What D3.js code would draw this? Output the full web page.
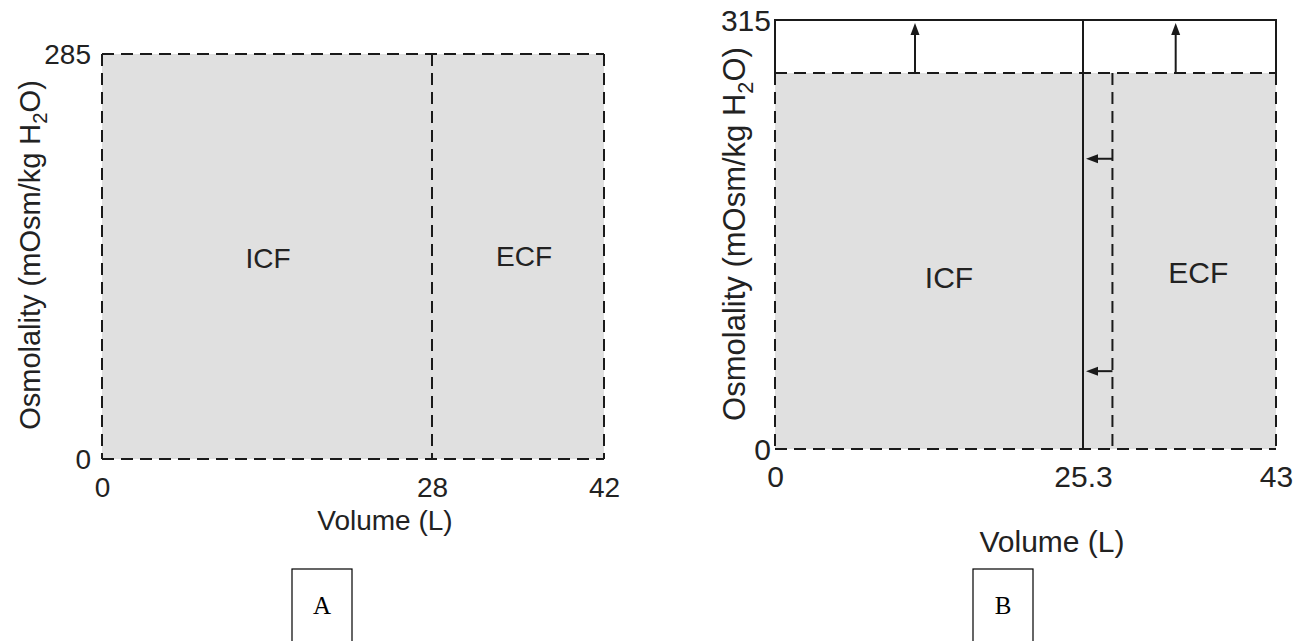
<!DOCTYPE html>
<html><head><meta charset="utf-8">
<script src="https://cdn.jsdelivr.net/npm/d3@7"></script>
<style>
body{margin:0;background:#fff;}
svg text{font-family:"Liberation Sans",Arial,Helvetica,sans-serif;fill:#222;}
</style></head>
<body><svg id="c" width="1316" height="641"></svg>
<script>
// ---- data ----
const volumeTicksA = [0, 28, 42];      // L
const osmTicksA = [0, 285];            // mOsm/kg H2O
const icfVolumeA = 28, totalVolumeA = 42, osmA = 285;

const volumeTicksB = [0, 25.3, 43];
const osmTicksB = [0, 315];
const icfVolumeB = 25.3, totalVolumeB = 43, osmB = 315;
const initialOsmB = 285, initialIcfB = 28;
const upArrowVolumesB = [11.5, 33.8];
const leftArrowOsmB = [220, 59];

const compartments = ["ICF", "ECF"];
const panelLabels = ["A", "B"];

const svg = d3.select("#c");
const INK = "#1a1a1a", FILL = "#e0e0e0", DASH = "12,7";

function dashedLine(g, x1, y1, x2, y2) {
  g.append("line").attr("x1", x1).attr("y1", y1).attr("x2", x2).attr("y2", y2)
    .attr("stroke", INK).attr("stroke-width", 2).attr("stroke-dasharray", DASH);
}
function solidLine(g, x1, y1, x2, y2) {
  g.append("line").attr("x1", x1).attr("y1", y1).attr("x2", x2).attr("y2", y2)
    .attr("stroke", INK).attr("stroke-width", 2);
}
function yTitle(g, x, y, fs) {
  const t = g.append("text").attr("transform", `translate(${x},${y}) rotate(-90)`)
    .attr("text-anchor", "middle").attr("font-size", fs);
  t.append("tspan").text("Osmolality (mOsm/kg H");
  t.append("tspan").attr("font-size", fs * 0.7).attr("dy", fs * 0.25).text("2");
  t.append("tspan").attr("dy", -fs * 0.25).text("O)");
}
function axes(g, x, y, xt, yt, xTickY, xTitleX, xTitleY, yTickX, fs) {
  const xa = g.append("g").attr("transform", `translate(0,${xTickY})`)
    .call(d3.axisBottom(x).tickValues(xt).tickSize(0).tickPadding(0).tickFormat(d => String(d)));
  xa.select(".domain").remove();
  xa.selectAll("text").attr("font-size", fs).attr("fill", INK).attr("dy", 0);
  const ya = g.append("g").attr("transform", `translate(${yTickX},0)`)
    .call(d3.axisLeft(y).tickValues(yt).tickSize(0).tickPadding(0).tickFormat(d => String(d)));
  ya.select(".domain").remove();
  ya.selectAll("text").attr("font-size", fs).attr("fill", INK).attr("dy", "0.35em");
  g.append("text").attr("x", xTitleX)
    .attr("y", xTitleY).attr("text-anchor", "middle").attr("font-size", fs).text("Volume (L)");
}
function panelBox(x0, label) {
  svg.append("rect").attr("x", x0).attr("y", 569).attr("width", 60).attr("height", 80)
    .attr("fill", "none").attr("stroke", "#000").attr("stroke-width", 1.2);
  svg.append("text").attr("x", x0 + 30).attr("y", 614).attr("text-anchor", "middle")
    .attr("font-size", 25).style("font-family", "'Liberation Serif','Times New Roman',serif")
    .style("fill", "#000").text(label);
}
function arrowHead(g, x, y, dir) {
  const p = dir === "up" ? [[x, y], [x - 4.5, y + 12], [x + 4.5, y + 12]]
                         : [[x, y], [x + 12, y - 4.5], [x + 12, y + 4.5]];
  g.append("path").attr("d", d3.line()(p) + "Z").attr("fill", INK);
}

// ---- Panel A ----
{
  const g = svg.append("g");
  const fs = 28;
  const x = d3.scaleLinear().domain(volumeTicksA).range([102, 432, 604]);
  const y = d3.scaleLinear().domain([0, osmA]).range([459, 54]);
  g.append("rect").attr("x", x(0)).attr("y", y(osmA)).attr("width", x(totalVolumeA) - x(0))
    .attr("height", y(0) - y(osmA)).attr("fill", FILL);
  dashedLine(g, x(0), y(osmA), x(totalVolumeA), y(osmA));
  dashedLine(g, x(0), y(0), x(totalVolumeA), y(0));
  dashedLine(g, x(0), y(osmA), x(0), y(0));
  dashedLine(g, x(totalVolumeA), y(osmA), x(totalVolumeA), y(0));
  dashedLine(g, x(icfVolumeA), y(osmA), x(icfVolumeA), y(0));
  g.append("text").attr("x", (x(0) + x(icfVolumeA)) / 2 + 1).attr("y", 268).attr("text-anchor", "middle")
    .attr("font-size", fs).text(compartments[0]);
  g.append("text").attr("x", (x(icfVolumeA) + x(totalVolumeA)) / 2 + 6).attr("y", 266).attr("text-anchor", "middle")
    .attr("font-size", fs).text(compartments[1]);
  axes(g, x, y, volumeTicksA, osmTicksA, 497, 385, 530, 91, fs);
  yTitle(g, 40, 255, 29);
}

// ---- Panel B ----
{
  const g = svg.append("g");
  const fs = 30;
  const x = d3.scaleLinear().domain(volumeTicksB).range([775, 1083, 1276]);
  const y = d3.scaleLinear().domain([0, initialOsmB, osmB]).range([449, 73, 20]);
  g.append("rect").attr("x", x(0)).attr("y", y(initialOsmB)).attr("width", x(totalVolumeB) - x(0))
    .attr("height", y(0) - y(initialOsmB)).attr("fill", FILL);
  solidLine(g, x(0) - 1, y(osmB), x(totalVolumeB) + 1, y(osmB));
  solidLine(g, x(0), y(osmB), x(0), y(initialOsmB));
  solidLine(g, x(totalVolumeB), y(osmB), x(totalVolumeB), y(initialOsmB));
  solidLine(g, x(icfVolumeB), y(osmB), x(icfVolumeB), y(0));
  dashedLine(g, x(0), y(initialOsmB), x(totalVolumeB), y(initialOsmB));
  dashedLine(g, x(0), y(0), x(totalVolumeB), y(0));
  dashedLine(g, x(0), y(initialOsmB), x(0), y(0));
  dashedLine(g, x(totalVolumeB), y(initialOsmB), x(totalVolumeB), y(0));
  dashedLine(g, x(initialIcfB), y(initialOsmB), x(initialIcfB), y(0));
  upArrowVolumesB.forEach(v => {
    solidLine(g, x(v), y(initialOsmB) - 1, x(v), y(osmB) + 14);
    arrowHead(g, x(v), y(osmB) + 3, "up");
  });
  leftArrowOsmB.forEach(o => {
    solidLine(g, x(initialIcfB), y(o), x(icfVolumeB) + 14, y(o));
    arrowHead(g, x(icfVolumeB) + 3, y(o), "left");
  });
  g.append("text").attr("x", (x(0) + x(icfVolumeB)) / 2 + 20).attr("y", 288).attr("text-anchor", "middle")
    .attr("font-size", fs).text(compartments[0]);
  g.append("text").attr("x", (x(initialIcfB) + x(totalVolumeB)) / 2 + 4).attr("y", 283).attr("text-anchor", "middle")
    .attr("font-size", fs).text(compartments[1]);
  axes(g, x, y, volumeTicksB, osmTicksB, 487, 1052, 552, 771, fs);
  yTitle(g, 745, 234, 31);
}

panelLabels.forEach((l, i) => panelBox([292, 973][i], l));
</script></body></html>
